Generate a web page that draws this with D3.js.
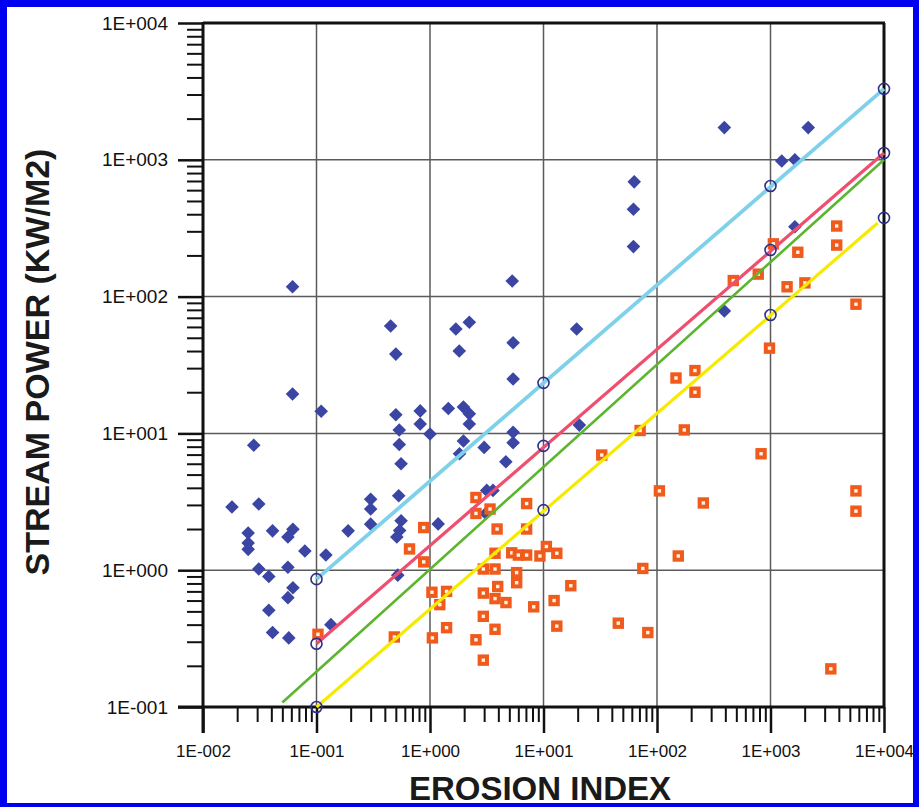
<!DOCTYPE html>
<html>
<head>
<meta charset="utf-8">
<script src="https://cdn.jsdelivr.net/npm/d3@7"></script>
<style>
  html, body { margin: 0; padding: 0; background: #fff; }
  svg { display: block; }
</style>
</head>
<body>
<svg id="chart" width="919" height="807"></svg>
<script>
// ---- data ----
const xDecades = [0.01, 0.1, 1, 10, 100, 1000, 10000];
const yDecades = [0.1, 1, 10, 100, 1000, 10000];

const blueX = [0.018,0.028,0.031,0.025,0.025,0.025,0.041,0.062,0.056,0.079,0.121,0.031,0.038,0.056,0.062,0.056,0.038,0.041,0.057,0.134,0.19,0.30,0.30,0.30,0.53,0.556,0.54,0.51,0.52,0.556,0.536,0.536,0.50,0.82,0.82,1.0,1.45,1.97,2.22,2.22,1.97,3.0,1.82,5.4,5.4,4.66,3.16,3.59,3.1,1.18,1.69,2.22,1.81,5.4,5.4,19.6,20.7,5.3,0.0615,0.45,0.50,0.0615,0.11,392,2150,1256,1640,63,62,62,1640,392];
const blueY = [2.9,8.2,3.05,1.87,1.58,1.42,1.94,1.99,1.75,1.38,1.29,1.02,0.90,1.05,0.745,0.63,0.51,0.35,0.32,0.40,1.94,3.3,2.8,2.17,3.5,2.3,1.95,1.75,0.92,6.0,8.3,10.6,13.7,14.6,11.7,9.9,15.2,15.6,13.9,11.7,8.8,7.9,7.1,10.2,8.55,6.2,3.83,3.83,2.6,2.18,58,65,40,46,25,58,11.5,130,118,61,38,19.4,14.5,1720,1720,980,1000,690,435,232,324,78.5];

const orangeX = [0.103,0.485,0.66,0.88,0.88,1.04,1.40,1.22,1.40,1.05,2.54,2.54,3.38,7.1,3.9,7.1,3.74,5.25,6.0,7.1,9.3,10.6,13.1,2.95,3.74,5.8,5.8,2.95,3.95,3.74,4.67,17.4,8.2,12.4,2.95,3.74,13.1,2.54,2.95,32.6,71,174,105,256,147,216,216,3830,3830,1060,1740,780,470,1400,2010,5660,980,826,5660,5660,154,75,45.6,83,3400];
const orangeY = [0.34,0.325,1.43,1.15,2.05,0.69,0.70,0.56,0.38,0.32,3.4,2.6,2.8,3.07,2.0,2.0,1.33,1.34,1.29,1.29,1.27,1.49,1.33,1.02,1.02,0.96,0.81,0.68,0.76,0.62,0.58,0.77,0.54,0.60,0.46,0.37,0.39,0.31,0.22,6.95,10.5,10.6,3.8,3.1,25.4,28.8,20,328,238,243,211,146,131,118,126,88,42,7.1,3.8,2.7,1.27,1.03,0.41,0.35,0.19];

// fitted lines (end points)
const cyanLineX = [0.1, 10000],  cyanLineY = [0.86, 3300];
const pinkLineX = [0.1, 10000],  pinkLineY = [0.29, 1120];
const greenLineX = [0.05, 10000], greenLineY = [0.108, 1000];
const yellowLineX = [0.1, 8800], yellowLineY = [0.1, 345];

// open circles on the lines
const cyanCircX = [0.1, 10, 1000, 10000],   cyanCircY = [0.86, 23.4, 643, 3300];
const pinkCircX = [0.1, 10, 1000, 10000],   pinkCircY = [0.29, 8.1, 219, 1120];
const yellowCircX = [0.1, 10, 1000, 10000], yellowCircY = [0.1, 2.75, 73.4, 376];

const xTitle = "EROSION INDEX";
const yTitle = "STREAM POWER (KW/M2)";

// ---- drawing ----
const svg = d3.select("#chart");
const W = 919, H = 807;
const L = 203, R = 884, T = 23, B = 707;
const x = d3.scaleLog().domain([0.01, 10000]).range([L, R]);
const y = d3.scaleLog().domain([0.1, 10000]).range([B, T]);

const fmt = v => {
  const e = Math.round(Math.log10(v));
  return "1E" + (e < 0 ? "-" : "+") + String(Math.abs(e)).padStart(3, "0");
};
const minors = (decs) => {
  const out = [];
  for (let i = 0; i < decs.length - 1; i++)
    for (let k = 2; k <= 9; k++) out.push(decs[i] * k);
  return out;
};

// white background + blue frame bands
svg.append("rect").attr("width", W).attr("height", H).attr("fill", "#fff");
const frame = svg.append("g").attr("fill", "#0000f0");
frame.append("rect").attr("x", 0).attr("y", 0).attr("width", W).attr("height", 7);
frame.append("rect").attr("x", 0).attr("y", 0).attr("width", 7).attr("height", H);
frame.append("rect").attr("x", W - 6).attr("y", 0).attr("width", 6).attr("height", H);
frame.append("rect").attr("x", 0).attr("y", H - 4).attr("width", W).attr("height", 4);

// grid
const grid = svg.append("g").attr("stroke", "#5a5a5a").attr("stroke-width", 1.5);
grid.selectAll(".gx").data(xDecades.slice(1, -1)).join("line")
  .attr("x1", d => x(d)).attr("x2", d => x(d)).attr("y1", T).attr("y2", B);
grid.selectAll(".gy").data(yDecades.slice(1, -1)).join("line")
  .attr("y1", d => y(d)).attr("y2", d => y(d)).attr("x1", L).attr("x2", R);

// frame top/right
svg.append("line").attr("x1", L).attr("x2", R + 1).attr("y1", T).attr("y2", T)
  .attr("stroke", "#111").attr("stroke-width", 3);
svg.append("line").attr("x1", R).attr("x2", R).attr("y1", T).attr("y2", B)
  .attr("stroke", "#111").attr("stroke-width", 3);

// axes
function styleAxis(g, w) {
  g.select(".domain").remove();
  g.selectAll(".tick line").attr("stroke", "#111").attr("stroke-width", w);
}
const xMajor = svg.append("g").attr("transform", `translate(0,${B})`)
  .call(d3.axisBottom(x).tickValues(xDecades).tickSize(26).tickPadding(12).tickFormat(fmt));
styleAxis(xMajor, 2.5);
xMajor.selectAll("text").attr("font-family", "'Liberation Sans', Arial, sans-serif")
  .attr("font-size", 17).attr("fill", "#111");
const xMinor = svg.append("g").attr("transform", `translate(0,${B})`)
  .call(d3.axisBottom(x).tickValues(minors(xDecades)).tickSize(15).tickFormat(""));
styleAxis(xMinor, 2);

const yMajor = svg.append("g").attr("transform", `translate(${L},0)`)
  .call(d3.axisLeft(y).tickValues(yDecades).tickSize(25).tickPadding(10).tickFormat(fmt));
styleAxis(yMajor, 2.5);
yMajor.selectAll("text").attr("font-family", "'Liberation Sans', Arial, sans-serif")
  .attr("font-size", 19).attr("fill", "#111");
const yMinor = svg.append("g").attr("transform", `translate(${L},0)`)
  .call(d3.axisLeft(y).tickValues(minors(yDecades)).tickSize(16).tickFormat(""));
styleAxis(yMinor, 2);

svg.append("line").attr("x1", L - 25).attr("x2", R + 1).attr("y1", B).attr("y2", B)
  .attr("stroke", "#111").attr("stroke-width", 3);
svg.append("line").attr("x1", L).attr("x2", L).attr("y1", T - 1).attr("y2", B + 26)
  .attr("stroke", "#111").attr("stroke-width", 3);

// titles
svg.append("text").attr("x", 540).attr("y", 800)
  .attr("text-anchor", "middle").attr("font-family", "'Liberation Sans', Arial, sans-serif")
  .attr("font-weight", "bold").attr("font-size", 33).attr("fill", "#1a1a1a").text(xTitle);
svg.append("text").attr("transform", "translate(49,362) rotate(-90)")
  .attr("text-anchor", "middle").attr("font-family", "'Liberation Sans', Arial, sans-serif")
  .attr("font-weight", "bold").attr("font-size", 34).attr("fill", "#1a1a1a").text(yTitle);

// markers
const plot = svg.append("g");
const blue = d3.range(blueX.length).map(i => [blueX[i], blueY[i]]);
const orange = d3.range(orangeX.length).map(i => [orangeX[i], orangeY[i]]);

plot.selectAll(".dia").data(blue).join("path")
  .attr("d", "M0,-6.8L6.8,0L0,6.8L-6.8,0Z")
  .attr("transform", d => `translate(${x(d[0])},${y(d[1])})`)
  .attr("fill", "#3b45a3");

plot.selectAll(".sq").data(orange).join("rect")
  .attr("x", d => x(d[0]) - 3.7).attr("y", d => y(d[1]) - 3.7)
  .attr("width", 7.4).attr("height", 7.4)
  .attr("fill", "#fff4e0").attr("stroke", "#f05a1c").attr("stroke-width", 4);

// lines
const lineGen = d3.line().x(d => x(d[0])).y(d => y(d[1]));
const lines = [
  [greenLineX, greenLineY, "#5cb52e", 2.6],
  [yellowLineX, yellowLineY, "#f6ea00", 3.2],
  [pinkLineX, pinkLineY, "#ef4f6e", 3.2],
  [cyanLineX, cyanLineY, "#7fd0ea", 3.8]
];
lines.forEach(([xs, ys, c, w]) => {
  plot.append("path").datum(xs.map((v, i) => [v, ys[i]]))
    .attr("d", lineGen).attr("fill", "none").attr("stroke", c).attr("stroke-width", w);
});

const circles = [[cyanCircX, cyanCircY], [pinkCircX, pinkCircY], [yellowCircX, yellowCircY]];
circles.forEach(([xs, ys]) => {
  plot.selectAll(null).data(xs.map((v, i) => [v, ys[i]])).join("circle")
    .attr("cx", d => x(d[0])).attr("cy", d => y(d[1])).attr("r", 5.5)
    .attr("fill", "none").attr("stroke", "#2c2f8c").attr("stroke-width", 1.6);
});
</script>
</body>
</html>
